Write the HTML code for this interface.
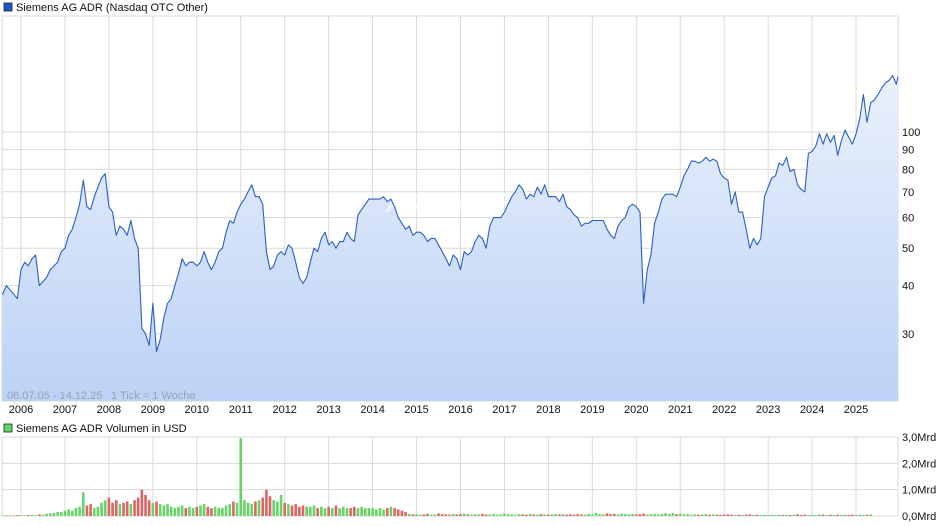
<!DOCTYPE html>
<html><head><meta charset="utf-8">
<style>
body{margin:0;background:#fff;font-family:"Liberation Sans",Arial,sans-serif;}
svg{display:block}
text{font-family:"Liberation Sans",Arial,sans-serif;}
</style></head>
<body>
<svg id="c" width="940" height="526" viewBox="0 0 940 526">
<defs>
<linearGradient id="fg" x1="0" y1="16" x2="0" y2="401" gradientUnits="userSpaceOnUse">
<stop offset="0" stop-color="#f2f6fd"/><stop offset="1" stop-color="#bcd2f6"/>
</linearGradient>
</defs>
<rect x="4" y="3" width="8" height="8" fill="#1f56c0" stroke="#223" stroke-width="0.8"/>
<text x="16" y="11" font-size="11" fill="#111">Siemens AG ADR (Nasdaq OTC Other)</text>
<rect x="4" y="424" width="8" height="8" fill="#5cd65c" stroke="#223" stroke-width="0.8"/>
<text x="16" y="432" font-size="11" fill="#111">Siemens AG ADR Volumen in USD</text>
<g id="grid"></g>
<g id="area"></g>
<text x="447" y="212" font-size="26" font-weight="bold" font-style="italic" fill="#ffffff" text-anchor="middle" opacity="0.6">ARIVA.DE</text>
<g id="line"></g>
<g id="vol"></g>
<g id="labels"></g>
<text x="7" y="399" font-size="11" fill="#9aa3ad">06.07.05 - 14.12.25</text>
<text x="111" y="399" font-size="11" fill="#9aa3ad">1 Tick = 1 Woche</text>
</svg>
<script>
const years=[2006,2007,2008,2009,2010,2011,2012,2013,2014,2015,2016,2017,2018,2019,2020,2021,2022,2023,2024,2025];
const priceTicks=[30,40,50,60,70,80,90,100];
const volTicks=[0,1,2,3];
const volTickLabels=["0,0Mrd","1,0Mrd","2,0Mrd","3,0Mrd"];
const startYear=2005.5;
const prices=[38,38,40,39,38,37,44,46,45,47,48,40,41,42,44,45,46,49,50,54,56,60,65,75,64,63,68,72,76,78,64,62,54,57,56,54,59,53,50,31,30,28,36,27,29,33,36,37,40,43,47,45,46,46,45,46,49,46,44,46,49,50,55,59,58,62,65,67,70,73,68,68,65,49,44,45,48,49,48,51,50,46,42,40.5,42,46,50,49,53,55,51,52,50,52,52,55,53,52,61,63,65,67,67,67,67,68,66,67,64,60,58,56,57,54,55,55,54,52,53,53,51,49,47,45,48,47,44,49,48,49,52,54,53,50,57,60,60,60,62,65,68,70,73,71,67,69,68,72,69,73,68,68,68,66,69,64,63,61,60,57,58,58,59,59,59,59,56,54,53,57,59,60,64,65,64,62,36,44,48,58,62,67,69,69,69,68,72,77,80,84,84,83,84,86,84,85,84,78,76,75,65,70,62,62,56,50,53,51,53,68,72,76,77,83,82,86,79,80,73,71,70,88,89,92,99,93,99,94,98,87,95,101,97,93,99,108,125,106,119,121,125,130,134,136,140,133,139];
const volumes=[0.02,0.02,0.03,0.02,0.02,0.03,0.03,0.02,0.04,0.05,0.03,0.06,0.05,0.08,0.1,0.12,0.15,0.15,0.2,0.25,0.2,0.3,0.35,0.9,0.4,0.45,0.3,0.35,0.5,0.6,0.7,0.5,0.6,0.45,0.5,0.55,0.45,0.6,0.7,1.0,0.8,0.6,0.5,0.55,0.45,0.4,0.45,0.35,0.3,0.35,0.4,0.3,0.35,0.3,0.35,0.4,0.45,0.35,0.3,0.35,0.3,0.3,0.4,0.45,0.55,0.5,2.95,0.6,0.5,0.45,0.55,0.6,0.7,1.0,0.75,0.6,0.55,0.8,0.5,0.45,0.4,0.45,0.35,0.4,0.35,0.35,0.4,0.3,0.35,0.3,0.35,0.3,0.4,0.3,0.35,0.3,0.3,0.35,0.3,0.35,0.3,0.3,0.3,0.25,0.3,0.25,0.3,0.35,0.3,0.25,0.2,0.15,0.08,0.06,0.07,0.05,0.06,0.08,0.05,0.06,0.1,0.07,0.06,0.05,0.08,0.06,0.07,0.09,0.06,0.05,0.07,0.06,0.08,0.05,0.06,0.07,0.05,0.06,0.09,0.07,0.06,0.05,0.07,0.06,0.05,0.08,0.06,0.05,0.07,0.06,0.05,0.06,0.08,0.06,0.07,0.05,0.06,0.05,0.07,0.06,0.05,0.08,0.06,0.12,0.07,0.06,0.1,0.07,0.08,0.06,0.09,0.07,0.06,0.08,0.06,0.07,0.09,0.06,0.07,0.08,0.06,0.07,0.1,0.08,0.11,0.07,0.09,0.06,0.07,0.05,0.06,0.05,0.06,0.07,0.05,0.06,0.05,0.04,0.05,0.06,0.05,0.04,0.05,0.04,0.05,0.06,0.04,0.05,0.04,0.05,0.04,0.05,0.04,0.05,0.04,0.05,0.04,0.05,0.06,0.04,0.05,0.04,0.05,0.04,0.06,0.05,0.04,0.05,0.04,0.05,0.04,0.05,0.04,0.05,0.04,0.05,0.04,0.05,0.06];
const NS='http://www.w3.org/2000/svg';
const L=2,R=898,T=16,B=401,VT=437,VB=516;
function xOf(t){return 21+(t-2006)*43.95;}
function yOf(v){return 132-386*Math.log10(v/100);}
function vyOf(v){return VB-v*(VB-VT)/3;}
function mk(tag,attrs,parent){const e=document.createElementNS(NS,tag);for(const k in attrs)e.setAttribute(k,attrs[k]);parent.appendChild(e);return e;}
const grid=document.getElementById('grid'),labels=document.getElementById('labels');
mk('rect',{x:L,y:T,width:R-L,height:B-T,fill:'#fff',stroke:'#d8d8d8'},grid);
mk('rect',{x:L,y:VT,width:R-L,height:VB-VT,fill:'#fff',stroke:'#d8d8d8'},grid);
years.forEach(y=>{
  const x=xOf(y);
  const g1=mk('line',{x1:x,x2:x,y1:T,y2:B,stroke:'#dadada'},grid);
  
  
  mk('line',{x1:x,x2:x,y1:VT,y2:VB,stroke:'#dadada'},grid);
  const t=mk('text',{x:x,y:413,'font-size':11,'text-anchor':'middle',fill:'#111'},labels);
  t.textContent=y;
  
  
});
priceTicks.forEach(p=>{
  const y=yOf(p);
  mk('line',{x1:L,x2:R,y1:y,y2:y,stroke:'#dadada'},grid);
  const t=mk('text',{x:902,y:y+4,'font-size':11,fill:'#111'},labels);
  t.textContent=p;
  
  
});
volTicks.forEach((v,i)=>{
  const y=vyOf(v);
  mk('line',{x1:L,x2:R,y1:y,y2:y,stroke:'#dadada'},grid);
  const t=mk('text',{x:902,y:y+4,'font-size':11,fill:'#111'},labels);
  t.textContent=volTickLabels[i];
  
  
});
const pts=prices.map((p,i)=>[Math.max(L,Math.min(R,xOf(startYear+i/12))),yOf(p)]);
const d=pts.map((p,i)=>(i?'L':'M')+p[0].toFixed(1)+' '+p[1].toFixed(1)).join(' ');
const area=mk('path',{d:d+` L${pts[pts.length-1][0]} ${B} L${pts[0][0]} ${B} Z`,fill:'url(#fg)'},document.getElementById('area'));


const line=mk('path',{d:d,fill:'none',stroke:'#2a5fc4','stroke-width':1.1,'stroke-linejoin':'round'},document.getElementById('line'));


const vg=document.getElementById('vol');
volumes.forEach((v,i)=>{
  const x=xOf(startYear+i/12);
  if(x>R-2||x<L)return;
  const up=i===0||prices[i]>=prices[i-1];
  const y=vyOf(v);
  const b=mk('rect',{x:x-1.3,y:y,width:2.6,height:VB-y,fill:up?'#66d466':'#e06464'},vg);
  
  
});
</script>
</body></html>
